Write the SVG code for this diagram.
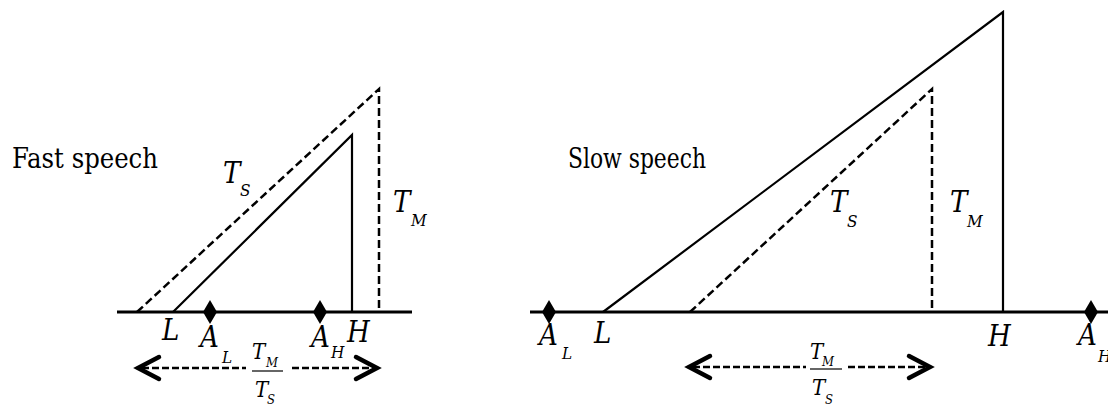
<svg xmlns="http://www.w3.org/2000/svg" width="1108" height="405" viewBox="0 0 1108 405">
<style>
.ax{stroke:#000;stroke-width:3;fill:none}
.sol{stroke:#000;stroke-width:2.2;fill:none}
.dash{stroke:#000;stroke-width:2.5;fill:none;stroke-dasharray:8,4}
.ad{stroke:#000;stroke-width:2.5;fill:none;stroke-dasharray:7,3}
.chev{stroke:#000;stroke-width:4.5;fill:none;stroke-linecap:round;stroke-linejoin:miter}
.bar{stroke:#000;stroke-width:1.2}
.dia{fill:#000}
text{font-family:'DejaVu Serif Condensed','DejaVu Serif',serif;font-stretch:condensed;fill:#000}
.ti{font-style:italic}
.big{font-size:28px}
.lbl{font-size:29px}
.sub{font-size:17px}
.fr{font-size:22px}
.frs{font-size:13px}
</style>
<defs>
<path id="diamond" d="M0,-12 L7,0 L0,12 L-7,0 Z" class="dia"/>
</defs>

<g id="fast">
<text class="big" x="12" y="168" textLength="146" lengthAdjust="spacingAndGlyphs">Fast speech</text>
<g id="fast-axis"><line class="ax" x1="117" y1="312" x2="412" y2="312"/></g>
<g id="fast-dashed-triangle"><polyline class="dash" points="137,312 379,89 379,312"/></g>
<g id="fast-solid-triangle"><polyline class="sol" points="173,312 352,135 352,312"/></g>
<g id="fast-AL"><use href="#diamond" x="210" y="312"/><text class="ti lbl" x="200" y="347">A</text><text class="ti sub" x="222" y="363">L</text></g>
<g id="fast-AH"><use href="#diamond" x="320" y="312"/><text class="ti lbl" x="311" y="347">A</text><text class="ti sub" x="331" y="358">H</text></g>
<g id="fast-L"><text class="ti lbl" x="162" y="340">L</text></g>
<g id="fast-H"><text class="ti lbl" x="347" y="342">H</text></g>
<g id="fast-TS"><text class="ti lbl" x="223" y="183">T</text><text class="ti sub" x="240" y="196">S</text></g>
<g id="fast-TM"><text class="ti lbl" x="393" y="212">T</text><text class="ti sub" x="411" y="226">M</text></g>
<g id="fast-ratio">
<line class="ad" x1="142" y1="368" x2="246" y2="368"/>
<line class="ad" x1="292" y1="368" x2="374" y2="368"/>
<polyline class="chev" points="159,357 138,368 159,379"/>
<polyline class="chev" points="356,357 377,368 356,379"/>
<text class="ti fr" x="252" y="359">T</text><text class="ti frs" x="266" y="367">M</text>
<line class="bar" x1="252" y1="371" x2="283" y2="371"/>
<text class="ti fr" x="255" y="397">T</text><text class="ti frs" x="267" y="404">S</text>
</g>
</g>

<g id="slow">
<text class="big" x="568" y="168" textLength="138" lengthAdjust="spacingAndGlyphs">Slow speech</text>
<g id="slow-axis"><line class="ax" x1="530" y1="312" x2="1108" y2="312"/></g>
<g id="slow-solid-triangle"><polyline class="sol" points="603,312 1003,12 1003,312"/></g>
<g id="slow-dashed-triangle"><polyline class="dash" points="690,312 932,89 932,312"/></g>
<g id="slow-AL"><use href="#diamond" x="549" y="312"/><text class="ti lbl" x="539" y="345">A</text><text class="ti sub" x="562" y="359">L</text></g>
<g id="slow-AH"><use href="#diamond" x="1091" y="312"/><text class="ti lbl" x="1078" y="345">A</text><text class="ti sub" x="1098" y="362">H</text></g>
<g id="slow-L"><text class="ti lbl" x="594" y="343">L</text></g>
<g id="slow-H"><text class="ti lbl" x="988" y="346">H</text></g>
<g id="slow-TS"><text class="ti lbl" x="830" y="212">T</text><text class="ti sub" x="847" y="227">S</text></g>
<g id="slow-TM"><text class="ti lbl" x="950" y="212">T</text><text class="ti sub" x="967" y="227">M</text></g>
<g id="slow-ratio">
<line class="ad" x1="693" y1="367" x2="806" y2="367"/>
<line class="ad" x1="848" y1="367" x2="927" y2="367"/>
<polyline class="chev" points="710,356 689,367 710,378"/>
<polyline class="chev" points="909,356 930,367 909,378"/>
<text class="ti fr" x="810" y="359">T</text><text class="ti frs" x="822" y="366">M</text>
<line class="bar" x1="810" y1="369" x2="842" y2="369"/>
<text class="ti fr" x="812" y="395">T</text><text class="ti frs" x="825" y="404">S</text>
</g>
</g>
</svg>
